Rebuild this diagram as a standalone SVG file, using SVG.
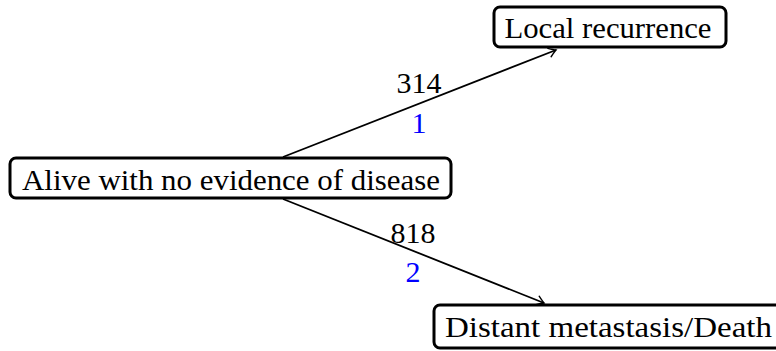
<svg xmlns="http://www.w3.org/2000/svg" width="776" height="351" viewBox="0 0 776 351">
<style>
.box{fill:#fff;stroke:#000;stroke-width:3}
.t{font-family:"Liberation Serif","Times New Roman",serif;font-size:30px;fill:#000;text-anchor:middle}
.b{fill:#0000ff}
.e{stroke:#000;stroke-width:1.8;fill:none}
</style>
<defs>
<marker id="arr" viewBox="-10 -6 12 12" refX="0" refY="0" markerWidth="12" markerHeight="12" markerUnits="userSpaceOnUse" orient="auto">
<path d="M-7,-4.5 Q-2,-1 0,0 Q-2,1 -7,4.5" fill="none" stroke="#000" stroke-width="1.4" stroke-linecap="round"/>
</marker>
</defs>
<g id="edges">
<line class="e" x1="283" y1="157" x2="556" y2="50" marker-end="url(#arr)"/>
<line class="e" x1="283" y1="199" x2="544" y2="303" marker-end="url(#arr)"/>
<text class="t" x="419" y="93">314</text>
<text class="t b" x="419" y="133">1</text>
<text class="t" x="413" y="243">818</text>
<text class="t b" x="413" y="282">2</text>
</g>
<g id="alive">
<rect class="box" x="10" y="158" width="441" height="40" rx="6"/>
<text class="t" x="231" y="190" textLength="418" lengthAdjust="spacingAndGlyphs">Alive with no evidence of disease</text>
</g>
<g id="local">
<rect class="box" x="494" y="7" width="232" height="40" rx="6"/>
<text class="t" x="608" y="38" textLength="207" lengthAdjust="spacingAndGlyphs">Local recurrence</text>
</g>
<g id="distant">
<rect class="box" x="434" y="305" width="350" height="43" rx="6"/>
<text class="t" x="608.5" y="337" textLength="327" lengthAdjust="spacingAndGlyphs">Distant metastasis/Death</text>
</g>
</svg>
